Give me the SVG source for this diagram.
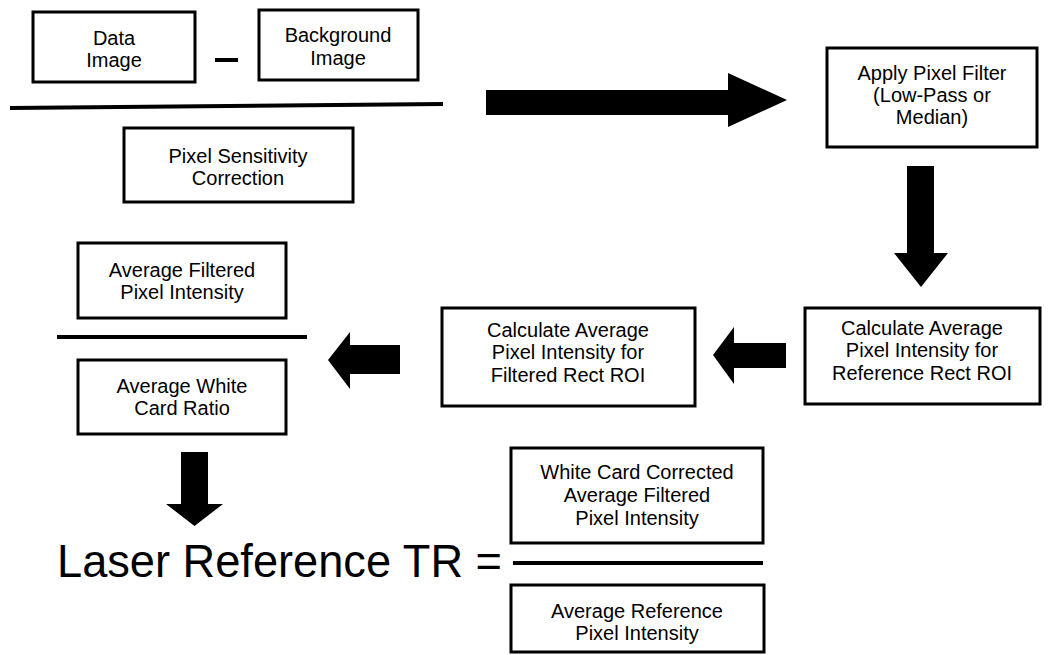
<svg xmlns="http://www.w3.org/2000/svg" width="1048" height="655" viewBox="0 0 1048 655">
<style>
.box{fill:#fff;stroke:#000;stroke-width:3}
.t{font-family:"Liberation Sans",Arial,sans-serif;font-size:20px;fill:#000;text-anchor:middle}
.big{font-family:"Liberation Sans",Arial,sans-serif;font-size:46px;fill:#000}
.bar{stroke:#000;stroke-width:4;fill:none}
.arr{fill:#000;stroke:none}
</style>
<rect width="1048" height="655" fill="#fff"/>
<g id="data-image">
<rect class="box" x="33" y="12" width="162" height="70"/>
<text class="t" x="114" y="45">Data</text>
<text class="t" x="114" y="67">Image</text>
</g>
<g id="minus"><rect x="215" y="58" width="23" height="4" fill="#000"/></g>
<g id="background-image">
<rect class="box" x="259" y="10" width="159" height="70"/>
<text class="t" x="338" y="42">Background</text>
<text class="t" x="338" y="65">Image</text>
</g>
<g id="fraction-line-1"><line class="bar" x1="10" y1="108" x2="443" y2="104"/></g>
<g id="pixel-sensitivity">
<rect class="box" x="124" y="128" width="229" height="74"/>
<text class="t" x="238" y="163">Pixel Sensitivity</text>
<text class="t" x="238" y="185">Correction</text>
</g>
<g id="apply-filter">
<rect class="box" x="827" y="48" width="210" height="99"/>
<text class="t" x="932" y="80">Apply Pixel Filter</text>
<text class="t" x="932" y="102">(Low-Pass or</text>
<text class="t" x="932" y="124">Median)</text>
</g>
<g id="ref-roi">
<rect class="box" x="805" y="308" width="235" height="96"/>
<text class="t" x="922" y="335">Calculate Average</text>
<text class="t" x="922" y="357">Pixel Intensity for</text>
<text class="t" x="922" y="380">Reference Rect ROI</text>
</g>
<g id="filtered-roi">
<rect class="box" x="442" y="308" width="253" height="98"/>
<text class="t" x="568" y="337">Calculate Average</text>
<text class="t" x="568" y="359">Pixel Intensity for</text>
<text class="t" x="568" y="382">Filtered Rect ROI</text>
</g>
<g id="avg-filtered">
<rect class="box" x="78" y="243" width="208" height="75"/>
<text class="t" x="182" y="277">Average Filtered</text>
<text class="t" x="182" y="299">Pixel Intensity</text>
</g>
<g id="fraction-line-2"><line class="bar" x1="57" y1="337" x2="307" y2="337"/></g>
<g id="avg-white-card">
<rect class="box" x="78" y="360" width="208" height="74"/>
<text class="t" x="182" y="393">Average White</text>
<text class="t" x="182" y="415">Card Ratio</text>
</g>
<g id="laser-ref">
<text class="big" x="57" y="577" textLength="445" lengthAdjust="spacingAndGlyphs">Laser Reference TR =</text>
</g>
<g id="white-card-corrected">
<rect class="box" x="511" y="448" width="252" height="95"/>
<text class="t" x="637" y="479">White Card Corrected</text>
<text class="t" x="637" y="502">Average Filtered</text>
<text class="t" x="637" y="525">Pixel Intensity</text>
</g>
<g id="fraction-line-3"><line class="bar" x1="513" y1="563" x2="763" y2="563"/></g>
<g id="avg-reference">
<rect class="box" x="511" y="585" width="253" height="67"/>
<text class="t" x="637" y="618">Average Reference</text>
<text class="t" x="637" y="640">Pixel Intensity</text>
</g>
<g id="connectors">
<path class="arr" d="M486,90 L728,90 L728,73 L787,100 L728,127 L728,115 L486,115 Z"/>
<path class="arr" d="M907,166 L934,166 L934,253 L948,253 L921,287 L894,253 L907,253 Z"/>
<path class="arr" d="M786,343 L734,343 L734,327 L713,355 L734,384 L734,368 L786,368 Z"/>
<path class="arr" d="M400,345 L350,345 L350,332 L328,360 L350,389 L350,374 L400,374 Z"/>
<path class="arr" d="M181,452 L208,452 L208,504 L223,504 L194.5,526 L166,504 L181,504 Z"/>
</g>
</svg>
